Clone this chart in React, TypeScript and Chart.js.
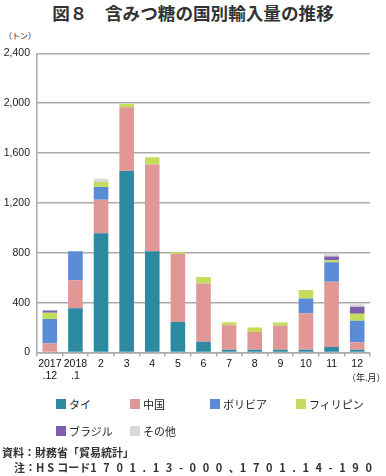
import React, { useEffect, useRef } from "react";
import { Chart, registerables } from "chart.js";

Chart.register(...registerables);

const categories: (string | string[])[] = [["2017", ".12"], ["2018", ".1"], "2", "3", "4", "5", "6", "7", "8", "9", "10", "11", "12"];
const seriesNames = ["タイ", "中国", "ボリビア", "フィリピン", "ブラジル", "その他"];
const seriesColors = ["#2B8AA2", "#E29797", "#5A8CD6", "#C5DC5C", "#7E5EAA", "#D9D9D9"];
const thai = [0, 355, 956, 1455, 813, 244, 86, 22, 22, 22, 22, 44, 22];
const china = [75, 225, 270, 513, 695, 547, 468, 196, 143, 193, 293, 523, 61];
const bolivia = [193, 232, 101, 0, 0, 0, 0, 0, 0, 0, 119, 156, 172];
const philippines = [51, 0, 40, 26, 58, 13, 51, 24, 35, 26, 67, 16, 56];
const brazil = [18, 0, 0, 0, 0, 0, 0, 0, 0, 0, 0, 32, 56];
const others = [0, 0, 26, 0, 0, 0, 0, 0, 0, 0, 0, 21, 21];
const seriesValues = [thai, china, bolivia, philippines, brazil, others];
const yTicks = [0, 400, 800, 1200, 1600, 2000, 2400];

const JP = '"Noto Sans CJK JP", "Noto Sans", sans-serif';
const LAT = '"Liberation Sans", Arial, sans-serif';
const GRID = "#AAAAAA";

const legendPos = [
  { x: 56, y: 399 },
  { x: 130, y: 399 },
  { x: 210, y: 399 },
  { x: 296, y: 399 },
  { x: 56, y: 426 },
  { x: 130, y: 426 },
];

export default function App() {
  const ref = useRef<HTMLCanvasElement | null>(null);
  useEffect(() => {
    document.body.style.margin = "0";
    const canvas = ref.current;
    if (!canvas) return;
    const chart = new Chart(canvas, {
      type: "bar",
      data: {
        labels: categories,
        datasets: seriesNames.map((n, i) => ({
          label: n,
          data: seriesValues[i],
          backgroundColor: seriesColors[i],
          borderWidth: 0,
          barPercentage: 0.57,
          categoryPercentage: 1,
        })),
      },
      options: {
        responsive: false,
        animation: false,
        layout: { padding: { top: 9, right: 16, left: 0, bottom: 0 } },
        plugins: { legend: { display: false }, title: { display: false }, tooltip: { enabled: false } },
        scales: {
          x: {
            stacked: true,
            grid: { display: true, drawOnChartArea: false, drawTicks: true, tickLength: 4, color: GRID, lineWidth: 1.5, offset: true },
            border: { display: true, color: GRID, width: 1.5 },
            ticks: { color: "#111", font: { family: LAT, size: 10.5 }, padding: 1, maxRotation: 0, autoSkip: false },
            afterFit: (s: any) => { s.height = 37.5; },
          },
          y: {
            stacked: true,
            min: 0,
            max: 2400,
            afterBuildTicks: (s: any) => { s.ticks = yTicks.map((v) => ({ value: v })); },
            grid: { color: GRID, lineWidth: 1.5, drawTicks: false },
            border: { display: true, color: GRID, width: 1.5 },
            ticks: {
              color: "#222",
              font: { family: LAT, size: 10.5 },
              padding: 7,
              callback: (v: any) => Number(v).toLocaleString("en-US"),
            },
            afterFit: (s: any) => { s.width = 37; },
          },
        },
      },
    });
    return () => chart.destroy();
  }, []);

  const foot = { position: "absolute" as const, fontFamily: JP, fontSize: 11, fontWeight: 700, lineHeight: "15px", whiteSpace: "nowrap" as const, color: "#333" };

  return (
    <div style={{ position: "relative", width: 386, height: 476, background: "#fff", overflow: "hidden", color: "#222" }}>
      <div style={{ position: "absolute", left: 0, top: 0, width: 386, textAlign: "center", fontFamily: JP, fontWeight: 700, fontSize: 17.6, lineHeight: "26px", whiteSpace: "nowrap", color: "#333" }}>
        図８　含みつ糖の国別輸入量の推移
      </div>
      <div style={{ position: "absolute", left: 4, top: 30, fontFamily: JP, fontSize: 8, lineHeight: "12px" }}>（トン）</div>
      <canvas ref={ref} width={386} height={350} style={{ position: "absolute", left: 0, top: 40, width: 386, height: 350 }} />
      <div style={{ position: "absolute", left: 347, top: 371, fontFamily: JP, fontSize: 9, lineHeight: "14px", whiteSpace: "nowrap" }}>（年.月）</div>
      {seriesNames.map((n, i) => (
        <div key={n} style={{ position: "absolute", left: legendPos[i].x, top: legendPos[i].y, display: "flex", alignItems: "center", whiteSpace: "nowrap" }}>
          <div style={{ width: 10, height: 10, background: seriesColors[i] }} />
          <span style={{ marginLeft: 3, fontFamily: JP, fontSize: 11, lineHeight: "10px" }}>{n}</span>
        </div>
      ))}
      <div style={{ ...foot, left: 2, top: 445 }}>資料：財務省「貿易統計」</div>
      <div style={{ ...foot, left: 14, top: 460 }}>
        注：<span style={{ letterSpacing: 3 }}>HS</span>コード<span style={{ letterSpacing: 6.6 }}>1701.13-000</span>、<span style={{ letterSpacing: 6.6 }}>1701.14-190</span>
      </div>
    </div>
  );
}
